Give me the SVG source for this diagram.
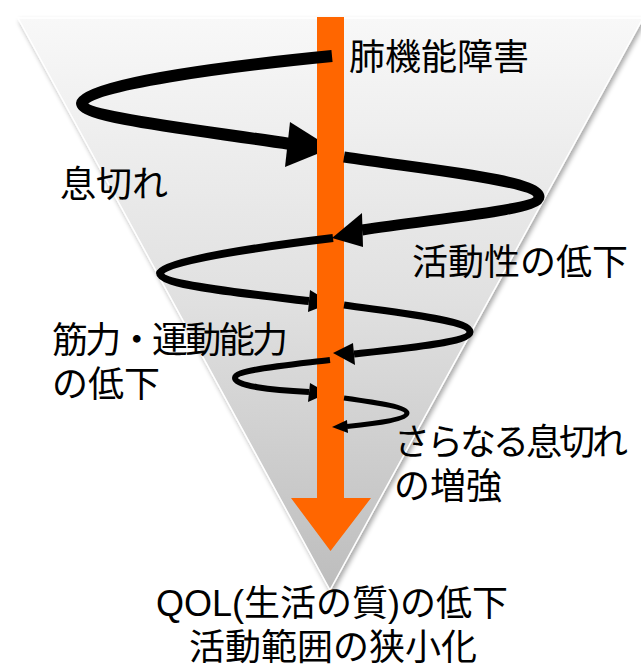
<svg xmlns="http://www.w3.org/2000/svg" width="641" height="671" viewBox="0 0 641 671">
<defs>
<linearGradient id="triGrad" x1="0" y1="18" x2="0" y2="590" gradientUnits="userSpaceOnUse">
<stop offset="0" stop-color="#f8f8f8"/>
<stop offset="0.5" stop-color="#e0e0e0"/>
<stop offset="1" stop-color="#bdbdbd"/>
</linearGradient>
<filter id="shadow" x="-10%" y="-10%" width="120%" height="120%">
<feGaussianBlur in="SourceAlpha" stdDeviation="2.5"/>
<feOffset dx="2" dy="3" result="b"/>
<feComponentTransfer><feFuncA type="linear" slope="0.35"/></feComponentTransfer>
<feMerge><feMergeNode/><feMergeNode in="SourceGraphic"/></feMerge>
</filter>
</defs>
<style>
.spiral{fill:none;stroke:#000;stroke-linecap:butt;stroke-linejoin:round}
.head{fill:#000}
.lbl{font-family:"Liberation Sans","Noto Sans CJK JP",sans-serif;font-size:36px;fill:#000}
</style>
<rect width="641" height="671" fill="#fff"/>
<g id="funnel">
<polygon points="18,18 643,18 330,590" fill="url(#triGrad)" stroke="#ffffff" stroke-width="1.5" filter="url(#shadow)"/>
</g>
<g id="main-arrow">
<polygon points="317,17 344,17 344,498 371,498 330.5,551 291,498 317,498" fill="#ff6600"/>
</g>
<g id="connectors">
<path class="spiral" stroke-width="12" d="M332,56 C230,66 82,85 82,103 C82,118 200,130 290,144"/>
<polygon class="head" points="290,122 317,139 317,154 285,167"/>
<path class="spiral" stroke-width="11" d="M344,157 C430,170 539,180 539,197 C539,210 440,218 362,230"/>
<polygon class="head" points="362,213 363,247 332,238"/>
<path class="spiral" stroke-width="8" d="M333,238 C250,248 160,262 160,273 C160,285 240,293 309,301"/>
<polygon class="head" points="310,290 317,294.3 317,308.5 308,312"/>
<path class="spiral" stroke-width="7" d="M344,305 C400,313 470,320 470,332 C470,342 410,348 354,354"/>
<polygon class="head" points="353,343 355,365 333,353"/>
<path class="spiral" stroke-width="6" d="M330,360 C280,366 235,370 235,378 C235,386 270,390 309,392"/>
<polygon class="head" points="310,383 317,387 317,398 308,402"/>
<path class="spiral" stroke-width="5" d="M344,398 C380,403 407,407 407,413 C407,419 380,423 347,426.5"/>
<polygon class="head" points="347,420 348,433 332,427"/>
</g>
<g id="label-lung"><text class="lbl" x="349" y="70">肺機能障害</text></g>
<g id="label-breath"><text class="lbl" x="60" y="197">息切れ</text></g>
<g id="label-activity"><text class="lbl" x="412" y="275">活動性の低下</text></g>
<g id="label-muscle"><text class="lbl" x="52" y="353" textLength="236" lengthAdjust="spacing">筋力・運動能力</text><text class="lbl" x="52" y="397">の低下</text></g>
<g id="label-more"><text class="lbl" x="394" y="455" textLength="234" lengthAdjust="spacing">さらなる息切れ</text><text class="lbl" x="394" y="499">の増強</text></g>
<g id="label-qol"><text class="lbl" x="332" y="616" text-anchor="middle">QOL(生活の質)の低下</text><text class="lbl" x="333" y="660" text-anchor="middle">活動範囲の狭小化</text></g>
</svg>
